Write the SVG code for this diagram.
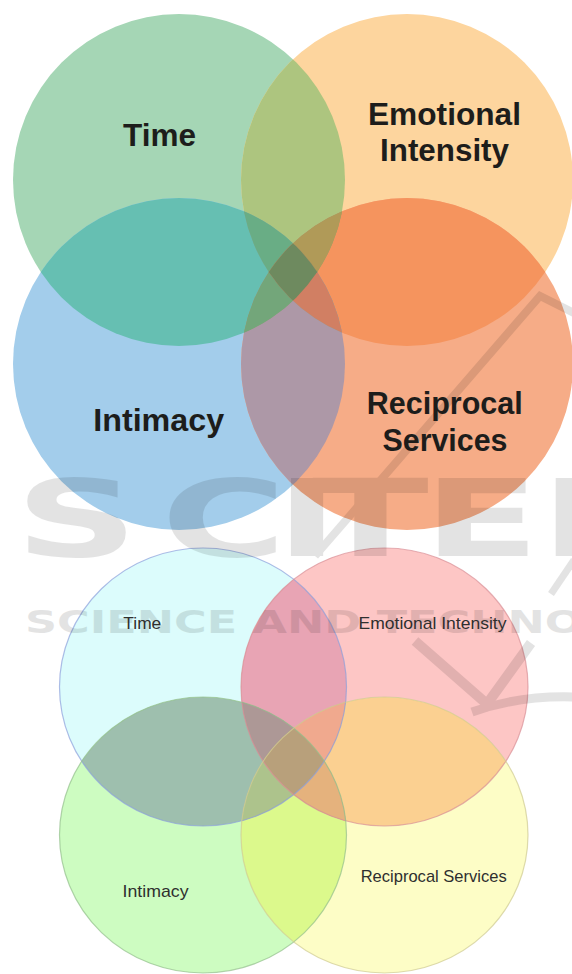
<svg xmlns="http://www.w3.org/2000/svg" width="572" height="974" viewBox="0 0 572 974">
  <style>
    .lbl-big { font-family: "Liberation Sans", Arial, sans-serif; font-weight: bold; font-size: 32px; fill: #1d1d1b; text-anchor: middle; }
    .lbl-small { font-family: "Liberation Sans", Arial, sans-serif; font-size: 17px; fill: #2f2f2f; text-anchor: middle; }
    .wm-big { font-family: "DejaVu Sans", sans-serif; font-weight: bold; font-size: 107px; fill: #000; }
    .wm-small { font-family: "DejaVu Sans", sans-serif; font-weight: bold; font-size: 31.5px; fill: #000; }
    .wm-line { fill: none; stroke: #000; stroke-linejoin: miter; }
    .outline { fill: none; stroke-width: 1.2; }
  </style>
  <defs>
    <!-- upper diagram: four circles -->
    <circle id="sG" cx="179" cy="180" r="166"/>
    <circle id="sO" cx="407" cy="180" r="166"/>
    <circle id="sB" cx="179" cy="364" r="166"/>
    <circle id="sC" cx="407" cy="364" r="166"/>
    <clipPath id="cG"><use href="#sG"/></clipPath>
    <clipPath id="cO"><use href="#sO"/></clipPath>
    <clipPath id="cB"><use href="#sB"/></clipPath>
    <clipPath id="cC"><use href="#sC"/></clipPath>
    <!-- lower diagram: four ellipses -->
    <ellipse id="sT" cx="203" cy="687" rx="143.5" ry="139"/>
    <ellipse id="sE" cx="384.5" cy="687" rx="143.5" ry="139"/>
    <ellipse id="sI" cx="203" cy="835" rx="143.5" ry="138"/>
    <ellipse id="sR" cx="384.5" cy="835" rx="143.5" ry="138"/>
    <clipPath id="cT"><use href="#sT"/></clipPath>
    <clipPath id="cE"><use href="#sE"/></clipPath>
    <clipPath id="cI"><use href="#sI"/></clipPath>
    <clipPath id="cR"><use href="#sR"/></clipPath>
  </defs>

  <rect width="572" height="974" fill="#ffffff"/>

  <!-- upper Venn diagram -->
  <g id="venn-upper">
    <g id="node-time"><use href="#sG" fill="#a5d6b5"/></g>
    <g id="node-emotional-intensity"><use href="#sO" fill="#fdd59e"/></g>
    <g id="node-intimacy"><use href="#sB" fill="#a3cdeb"/></g>
    <g id="node-reciprocal-services"><use href="#sC" fill="#f6ac87"/></g>
    <g id="upper-overlaps">
      <g clip-path="url(#cG)"><use href="#sO" fill="#adc57f"/></g>
      <g clip-path="url(#cG)"><use href="#sB" fill="#66bfb2"/></g>
      <g clip-path="url(#cO)"><use href="#sC" fill="#f5945e"/></g>
      <g clip-path="url(#cB)"><use href="#sC" fill="#ad98a7"/></g>
      <g clip-path="url(#cG)"><use href="#sC" fill="#8f9f72"/></g>
      <g clip-path="url(#cO)"><use href="#sB" fill="#8aa597"/></g>
      <g clip-path="url(#cG)"><g clip-path="url(#cO)"><use href="#sB" fill="#69ad85"/></g></g>
      <g clip-path="url(#cG)"><g clip-path="url(#cO)"><use href="#sC" fill="#b09a58"/></g></g>
      <g clip-path="url(#cG)"><g clip-path="url(#cB)"><use href="#sC" fill="#73a67a"/></g></g>
      <g clip-path="url(#cO)"><g clip-path="url(#cB)"><use href="#sC" fill="#d17f63"/></g></g>
      <g clip-path="url(#cG)"><g clip-path="url(#cO)"><g clip-path="url(#cB)"><use href="#sC" fill="#6e8a5f"/></g></g></g>
    </g>
  </g>

  <!-- lower Venn diagram -->
  <g id="venn-lower">
    <g id="node-time-2"><use href="#sT" fill="#dcfcfc"/></g>
    <g id="node-emotional-intensity-2"><use href="#sE" fill="#fdc6c5"/></g>
    <g id="node-intimacy-2"><use href="#sI" fill="#cdfcc1"/></g>
    <g id="node-reciprocal-services-2"><use href="#sR" fill="#fdfdc6"/></g>
    <g id="lower-overlaps">
      <g clip-path="url(#cT)"><use href="#sE" fill="#e8a4b4"/></g>
      <g clip-path="url(#cT)"><use href="#sI" fill="#9ebfae"/></g>
      <g clip-path="url(#cE)"><use href="#sR" fill="#fbd091"/></g>
      <g clip-path="url(#cI)"><use href="#sR" fill="#dcf98c"/></g>
      <g clip-path="url(#cT)"><use href="#sR" fill="#c8b2a0"/></g>
      <g clip-path="url(#cE)"><use href="#sI" fill="#c09c9c"/></g>
      <g clip-path="url(#cT)"><g clip-path="url(#cE)"><use href="#sI" fill="#ad9896"/></g></g>
      <g clip-path="url(#cT)"><g clip-path="url(#cE)"><use href="#sR" fill="#f0a98e"/></g></g>
      <g clip-path="url(#cT)"><g clip-path="url(#cI)"><use href="#sR" fill="#adc38c"/></g></g>
      <g clip-path="url(#cE)"><g clip-path="url(#cI)"><use href="#sR" fill="#e5b27d"/></g></g>
      <g clip-path="url(#cT)"><g clip-path="url(#cE)"><g clip-path="url(#cI)"><use href="#sR" fill="#b8a07b"/></g></g></g>
    </g>
    <g id="lower-outlines">
      <use href="#sT" class="outline" stroke="#8b9fdc" stroke-opacity="0.7"/>
      <use href="#sE" class="outline" stroke="#d98e96" stroke-opacity="0.7"/>
      <use href="#sI" class="outline" stroke="#93bf8c" stroke-opacity="0.7"/>
      <use href="#sR" class="outline" stroke="#cfcb92" stroke-opacity="0.7"/>
    </g>
  </g>

  <!-- faint publisher watermark -->
  <g id="watermark" opacity="0.105">
    <g transform="scale(1.6,1)">
      <text class="wm-big" y="556"><tspan x="9.4">S</tspan><tspan x="100.6">C</tspan><tspan x="172">I</tspan><tspan x="195">T</tspan><tspan x="264.4">E</tspan><tspan x="337.5">PRESS</tspan></text>
    </g>
    <path class="wm-line" stroke-width="8" d="M315,556 L540,296 L580,316"/>
    <text class="wm-small" x="25" y="633" textLength="690" lengthAdjust="spacingAndGlyphs">SCIENCE AND TECHNOLOGY</text>
    <path class="wm-line" stroke-width="7" d="M551,594 L574,560"/>
    <path class="wm-line" stroke-width="10" d="M415,641 L487,704 L531,643"/>
    <path class="wm-line" stroke-width="9" d="M472,712 Q520,695 576,697"/>
  </g>

  <!-- labels, upper diagram -->
  <g id="labels-upper">
    <text class="lbl-big" x="159.5" y="146" textLength="73" lengthAdjust="spacingAndGlyphs">Time</text>
    <text class="lbl-big" x="444.5" y="125" textLength="153" lengthAdjust="spacingAndGlyphs">Emotional</text>
    <text class="lbl-big" x="444.5" y="161" textLength="129" lengthAdjust="spacingAndGlyphs">Intensity</text>
    <text class="lbl-big" x="158.7" y="431" textLength="131" lengthAdjust="spacingAndGlyphs">Intimacy</text>
    <text class="lbl-big" x="444.7" y="414" textLength="156" lengthAdjust="spacingAndGlyphs">Reciprocal</text>
    <text class="lbl-big" x="445" y="451" textLength="125" lengthAdjust="spacingAndGlyphs">Services</text>
  </g>

  <!-- labels, lower diagram -->
  <g id="labels-lower">
    <text class="lbl-small" x="142.3" y="629" textLength="38" lengthAdjust="spacingAndGlyphs">Time</text>
    <text class="lbl-small" x="432.5" y="629" textLength="148" lengthAdjust="spacingAndGlyphs">Emotional Intensity</text>
    <text class="lbl-small" x="155.5" y="897" textLength="66" lengthAdjust="spacingAndGlyphs">Intimacy</text>
    <text class="lbl-small" x="433.7" y="882" textLength="146" lengthAdjust="spacingAndGlyphs">Reciprocal Services</text>
  </g>
</svg>
